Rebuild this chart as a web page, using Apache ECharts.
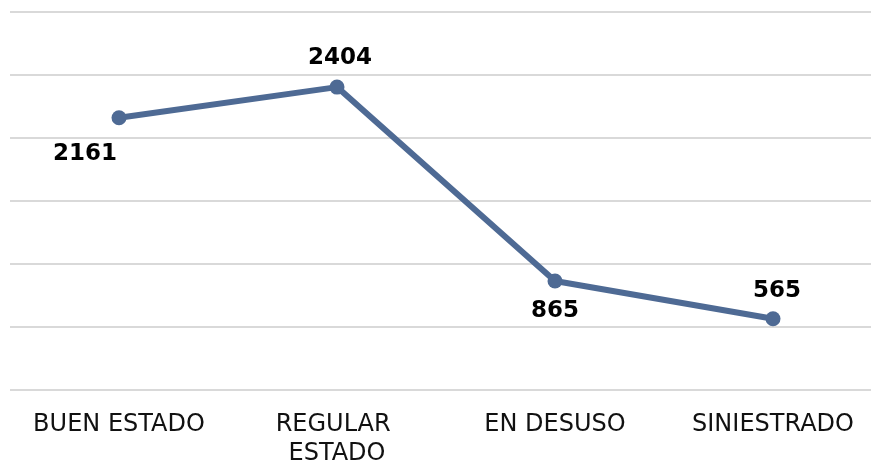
<!DOCTYPE html>
<html>
<head>
<meta charset="utf-8">
<script src="https://cdn.jsdelivr.net/npm/echarts@6/dist/echarts.min.js"></script>
<style>
html,body{margin:0;padding:0;background:#fff;}
#c{width:871px;height:461px;}
</style>
</head>
<body>
<div id="c"></div>
<script>
const categories = ["BUEN ESTADO", "REGULAR ESTADO", "EN DESUSO", "SINIESTRADO"];
const values = [2161, 2404, 865, 565];
const yMin = 0, yMax = 3000, yInterval = 500;

// label offsets (style, relative to point centre)
const labelOffsets = [[-34, 36], [3, -29], [0, 30], [4, -28]];

const chart = echarts.init(document.getElementById('c'), null, {renderer: 'canvas'});
chart.setOption({
  animation: false,
  backgroundColor: '#ffffff',
  grid: {left: 10, right: -11, top: 12, bottom: 71, containLabel: false, outerBoundsMode: 'none'},
  xAxis: {
    type: 'category',
    data: categories,
    boundaryGap: true,
    axisLine: {show: false},
    axisTick: {show: false},
    axisLabel: {
      interval: 0,
      margin: 20,
      color: '#111',
      fontFamily: 'DejaVu Sans',
      fontSize: 24,
      lineHeight: 29,
      width: 200,
      overflow: 'break'
    }
  },
  yAxis: {
    type: 'value',
    min: yMin, max: yMax, interval: yInterval,
    axisLine: {show: false},
    axisTick: {show: false},
    axisLabel: {show: false},
    splitLine: {show: true, lineStyle: {color: '#d9d9d9', width: 2}}
  },
  series: [{
    type: 'line',
    data: values.map((v, i) => ({
      value: v,
      label: {position: 'inside', offset: labelOffsets[i]}
    })),
    lineStyle: {color: '#4E6A94', width: 6},
    itemStyle: {color: '#4E6A94'},
    symbol: 'circle',
    symbolSize: 15,
    label: {
      show: true,
      color: '#000',
      fontFamily: 'DejaVu Sans',
      fontWeight: 'bold',
      fontSize: 23
    }
  }]
});
</script>
</body>
</html>
